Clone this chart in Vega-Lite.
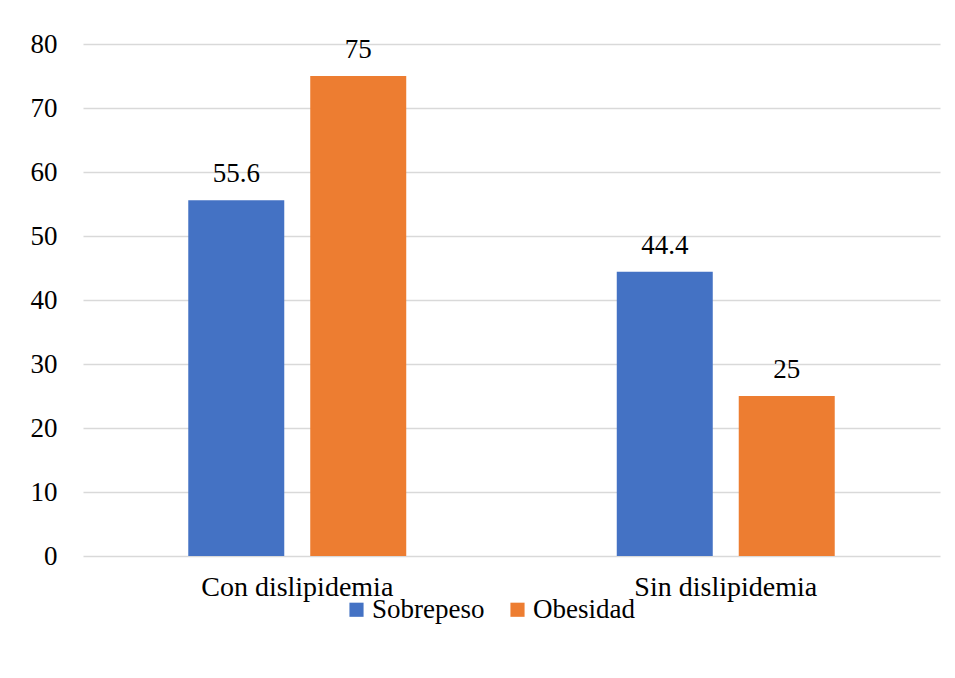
{
  "$schema": "https://vega.github.io/schema/vega-lite/v6.json",
  "width": 857,
  "height": 512,
  "autosize": {"type": "none"},
  "padding": {"left": 83, "top": 44, "right": 15, "bottom": 122},
  "background": "white",
  "config": {
    "view": {"stroke": null},
    "font": "Liberation Serif",
    "axis": {"labelFont": "Liberation Serif", "labelColor": "black"},
    "legend": {"labelFont": "Liberation Serif", "labelColor": "black"}
  },
  "data": {
    "values": [
      {"grupo": "Con dislipidemia", "serie": "Sobrepeso", "valor": 55.6},
      {"grupo": "Con dislipidemia", "serie": "Obesidad", "valor": 75},
      {"grupo": "Sin dislipidemia", "serie": "Sobrepeso", "valor": 44.4},
      {"grupo": "Sin dislipidemia", "serie": "Obesidad", "valor": 25}
    ]
  },
  "encoding": {
    "x": {
      "field": "grupo", "type": "nominal", "sort": null,
      "scale": {"paddingInner": 0, "paddingOuter": 0},
      "axis": {"title": null, "labelAngle": 0, "labelFontSize": 28, "labelLimit": 0, "labelPadding": 17, "ticks": false, "domain": false, "grid": false}
    },
    "xOffset": {
      "field": "serie", "type": "nominal", "sort": ["Sobrepeso", "Obesidad"],
      "scale": {"paddingInner": 0.213, "paddingOuter": 0.863}
    },
    "y": {
      "field": "valor", "type": "quantitative",
      "scale": {"domain": [0, 80], "nice": false},
      "axis": {"title": null, "values": [0,10,20,30,40,50,60,70,80], "labelFontSize": 27, "labelPadding": 26, "ticks": false, "domain": false, "gridColor": "#D9D9D9", "gridWidth": 1.5}
    }
  },
  "layer": [
    {
      "mark": {"type": "bar"},
      "encoding": {
        "color": {
          "field": "serie", "type": "nominal", "sort": ["Sobrepeso", "Obesidad"],
          "scale": {"domain": ["Sobrepeso", "Obesidad"], "range": ["#4472C4", "#ED7D31"]},
          "legend": {
            "title": null, "orient": "none", "direction": "horizontal",
            "legendX": 260, "legendY": 552,
            "symbolType": "square", "symbolSize": 200, "symbolStrokeWidth": 0,
            "labelFontSize": 27, "labelOffset": 2, "columnPadding": 19
          }
        }
      }
    },
    {
      "mark": {"type": "text", "baseline": "alphabetic", "dy": -18, "fontSize": 27, "color": "black"},
      "encoding": {"text": {"field": "valor", "type": "quantitative"}}
    }
  ]
}
